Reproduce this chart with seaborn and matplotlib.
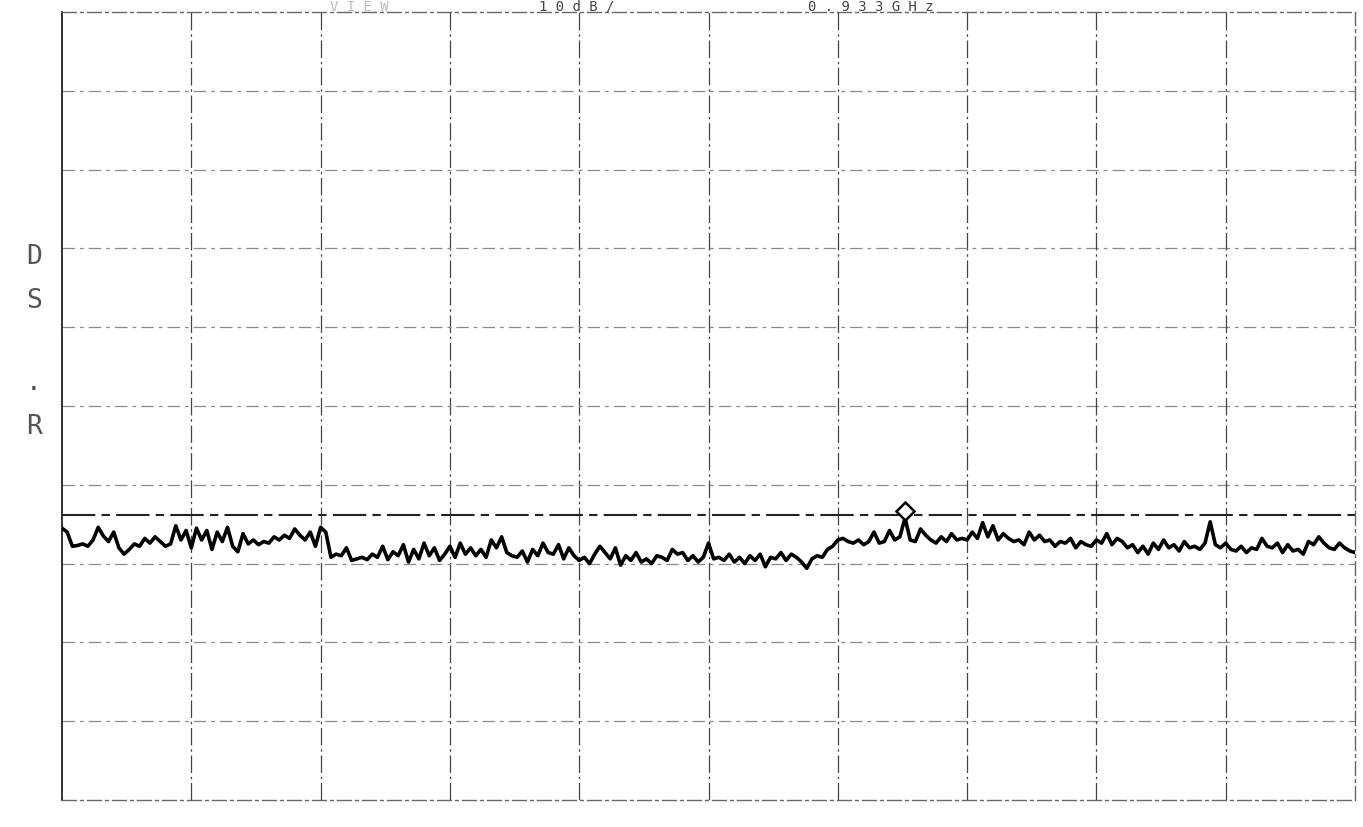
import numpy as np
import pandas as pd
import matplotlib
matplotlib.use("Agg")
import matplotlib.pyplot as plt
import seaborn as sns

# ---- data (in grid divisions, 0 = bottom, 10 = top) ----
trace_div0 = [3.45, 3.40, 3.22, 3.23, 3.25, 3.22, 3.30, 3.46, 3.35, 3.28, 3.40, 3.20, 3.12,
              3.18, 3.25, 3.22, 3.32, 3.26, 3.34, 3.28, 3.22, 3.25, 3.48, 3.30, 3.42]
trace_div1 = [3.20, 3.45, 3.30, 3.42, 3.18, 3.40, 3.28, 3.46, 3.22, 3.15, 3.38, 3.25, 3.30,
              3.24, 3.28, 3.26, 3.34, 3.30, 3.36, 3.32, 3.44, 3.36, 3.30, 3.40, 3.22]
trace_div2 = [3.46, 3.40, 3.08, 3.12, 3.10, 3.20, 3.04, 3.06, 3.08, 3.05, 3.12, 3.08, 3.22,
              3.05, 3.15, 3.10, 3.24, 3.02, 3.18, 3.06, 3.26, 3.10, 3.20, 3.04, 3.12]
trace_div3 = [3.22, 3.08, 3.26, 3.12, 3.20, 3.10, 3.18, 3.08, 3.30, 3.20, 3.34, 3.14, 3.10,
              3.08, 3.16, 3.02, 3.18, 3.10, 3.26, 3.14, 3.12, 3.24, 3.06, 3.20, 3.10]
trace_div4 = [3.04, 3.08, 3.00, 3.12, 3.22, 3.14, 3.06, 3.20, 2.98, 3.10, 3.04, 3.14, 3.02,
              3.06, 3.00, 3.10, 3.08, 3.04, 3.18, 3.12, 3.14, 3.04, 3.10, 3.02, 3.08]
trace_div5 = [3.26, 3.06, 3.08, 3.04, 3.12, 3.02, 3.08, 3.00, 3.10, 3.04, 3.12, 2.96, 3.08,
              3.06, 3.14, 3.04, 3.12, 3.08, 3.02, 2.94, 3.06, 3.10, 3.08, 3.18, 3.22]
trace_div6 = [3.30, 3.32, 3.28, 3.26, 3.30, 3.24, 3.28, 3.40, 3.26, 3.28, 3.42, 3.30, 3.34,
              3.58, 3.30, 3.28, 3.44, 3.36, 3.30, 3.26, 3.34, 3.28, 3.38, 3.30, 3.32]
trace_div7 = [3.30, 3.40, 3.32, 3.52, 3.34, 3.48, 3.30, 3.38, 3.32, 3.28, 3.30, 3.24, 3.40,
              3.30, 3.36, 3.28, 3.30, 3.22, 3.28, 3.26, 3.32, 3.20, 3.28, 3.24, 3.22]
trace_div8 = [3.30, 3.26, 3.38, 3.24, 3.32, 3.28, 3.20, 3.24, 3.14, 3.22, 3.12, 3.26, 3.18,
              3.30, 3.20, 3.24, 3.16, 3.28, 3.20, 3.22, 3.18, 3.26, 3.53, 3.24, 3.20]
trace_div9 = [3.26, 3.18, 3.16, 3.22, 3.14, 3.20, 3.18, 3.32, 3.22, 3.20, 3.26, 3.14, 3.24,
              3.16, 3.18, 3.12, 3.28, 3.24, 3.34, 3.26, 3.20, 3.18, 3.26, 3.20, 3.16, 3.14]

display_line = 3.62          # horizontal reference (display) line
marker_index = 163           # trace point carrying the diamond marker
marker_level = 3.67

header_texts = ["V I E W", "1 0 d B /", "0 . 9 3 3 G H z"]
side_labels = ["D", "S", ".", "R"]

trace = (trace_div0 + trace_div1 + trace_div2 + trace_div3 + trace_div4 +
         trace_div5 + trace_div6 + trace_div7 + trace_div8 + trace_div9)
df = pd.DataFrame({"point": np.arange(len(trace)), "level": trace})
n_points = len(trace)

# ---- figure ----
sns.set_style("white")
fig = plt.figure(figsize=(13.63, 8.27), dpi=100)
ax = fig.add_axes([62 / 1363, 27 / 827, (1355 - 62) / 1363, (800 - 12) / 827])

ax.set_xlim(0, n_points - 1)
ax.set_ylim(0, 10)

# graticule
for i in range(1, 10):
    xv = i * (n_points - 1) / 10
    ax.axvline(xv, color="#444444", lw=0.9, ls=(0, (14, 3, 2, 3)), zorder=1)
    ax.axhline(i, color="#8a8a8a", lw=0.9, ls=(0, (10, 4, 3, 4)), zorder=1)

for side in ["top", "bottom", "right"]:
    ax.spines[side].set_linestyle((0, (10, 3, 2, 3)))
    ax.spines[side].set_color("#666666")
    ax.spines[side].set_linewidth(1.0)
ax.spines["left"].set_color("#222222")
ax.spines["left"].set_linewidth(1.3)

# display line
ax.axhline(display_line, color="#222222", lw=1.5, ls=(0, (16, 3, 4, 3)), zorder=2)

# trace
sns.lineplot(data=df, x="point", y="level", ax=ax, color="black", linewidth=2.6,
             zorder=3, legend=False)

# marker diamond
ax.plot([marker_index], [marker_level], marker="D", markersize=9, markerfacecolor="white",
        markeredgecolor="black", markeredgewidth=1.8, zorder=4, clip_on=False)

ax.set_xticks([])
ax.set_yticks([])
ax.set_xlabel("")
ax.set_ylabel("")

# header (only a thin strip is visible at the top of the scan)
mono = "DejaVu Sans Mono"
fig.text(330 / 1363, 1.0, header_texts[0], fontsize=10, family=mono, color="#bbbbbb",
         ha="left", va="top")
fig.text(539 / 1363, 1.0, header_texts[1], fontsize=10, family=mono, color="#444444",
         ha="left", va="top")
fig.text(808 / 1363, 1.0, header_texts[2], fontsize=10, family=mono, color="#444444",
         ha="left", va="top")

# side labels
side_y = [257, 301, 383, 427]
for lab, yy in zip(side_labels, side_y):
    fig.text(34 / 1363, 1 - yy / 827, lab, fontsize=19, family=mono, color="#555555",
             ha="center", va="center")

fig.savefig("out.png", dpi=100, facecolor="white")
